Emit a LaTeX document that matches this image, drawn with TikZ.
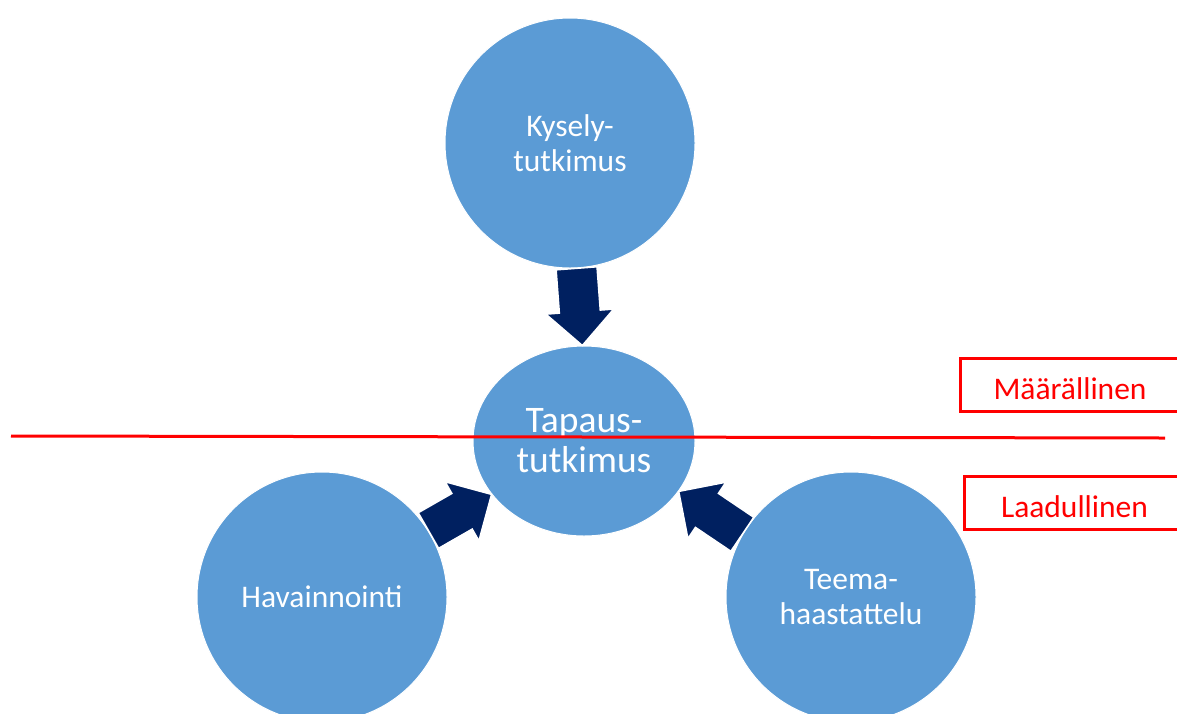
\documentclass[tikz,border=0pt]{standalone}
\usepackage{fontspec}
\setmainfont{Carlito}
\usetikzlibrary{shapes.geometric,calc}
\definecolor{bubble}{HTML}{5B9BD5}
\definecolor{navyblk}{HTML}{002060}
\definecolor{redrule}{HTML}{FF0000}
\newcommand{\blockarrowdraw}[3]{%
  \coordinate (#3h) at ($(#2)!34pt!(#1)$);
  \draw[blockarr] ($(#1)!20.5pt!90:(#2)$) -- ($(#3h)!20.5pt!-90:(#1)$) -- ($(#3h)!34pt!-90:(#1)$) -- (#2)
     -- ($(#3h)!34pt!90:(#1)$) -- ($(#3h)!20.5pt!90:(#1)$) -- ($(#1)!20.5pt!-90:(#2)$) -- cycle;}
\begin{document}
\begin{tikzpicture}[x=1pt,y=-1pt,
  bubblecirc/.style={circle, fill=bubble, draw=white, line width=1pt, minimum size=250pt, inner sep=0pt,
    text=white, align=center, font=\fontsize{31.5}{35}\selectfont},
  hubell/.style={ellipse, fill=bubble, draw=white, line width=1pt, minimum width=222pt, minimum height=190pt,
    inner sep=0pt, text=white, align=center, font=\fontsize{37.5}{40}\selectfont},
  blockarr/.style={fill=navyblk, draw=white, line width=1.5pt, line join=miter},
  redbox/.style={draw=redrule, line width=3pt, minimum width=260pt, minimum height=53pt, inner sep=0pt},
  redlabel/.style={text=redrule, font=\fontsize{31.5}{35}\selectfont, inner sep=0pt},
  redline/.style={draw=redrule, line width=3pt}]
\useasboundingbox (0,0) rectangle (1177,713);
\clip (0,0) rectangle (1177,713);
\fill[white] (0,0) rectangle (1177,713);

\node[bubblecirc] (kys) at (570,143) {Kysely-\\tutkimus};
\node[bubblecirc] (hav) at (322,597) {Havainnointi};
\node[bubblecirc] (tee) at (851,597) {Teema-\\haastattelu};
\node[hubell] (tap) at (584,441) {Tapaus-\\tutkimus};

\coordinate (a1s) at (kys.273);
\coordinate (a1e) at (tap.91);
\coordinate (a2s) at (hav.32);
\coordinate (a2e) at (tap.210);
\coordinate (a3s) at (tee.150);
\coordinate (a3e) at (tap.332);
\blockarrowdraw{a1s}{a1e}{ha}
\blockarrowdraw{a2s}{a2e}{hb}
\blockarrowdraw{a3s}{a3e}{hc}

\coordinate (rl1) at (11,436);
\coordinate (rl2) at (1165,438);
\draw[redline] (rl1) -- (rl2);

\node[redbox, anchor=north west] (mbox) at (959,357) {};
\node[redlabel, anchor=base] (mlab) at (1070,399) {Määrällinen};
\node[redbox, anchor=north west] (lbox) at (963,475) {};
\node[redlabel, anchor=base] (llab) at (1074.5,517) {Laadullinen};
\end{tikzpicture}
\end{document}
